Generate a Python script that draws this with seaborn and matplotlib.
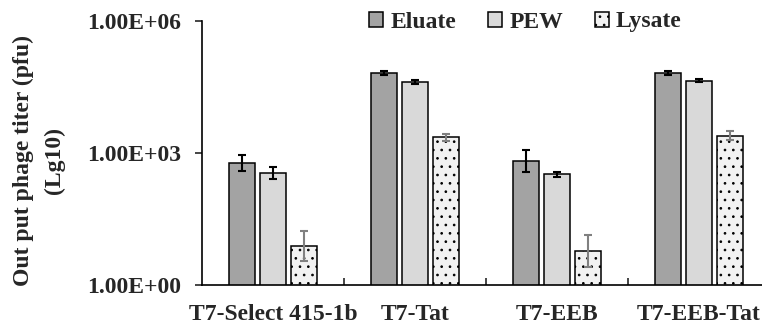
import numpy as np
import pandas as pd
import matplotlib
matplotlib.use("Agg")
import matplotlib.pyplot as plt
import seaborn as sns

# DATA (log10 axis)
phages = ["T7-Select 415-1b", "T7-Tat", "T7-EEB", "T7-EEB-Tat"]
samples = ["Eluate", "PEW", "Lysate"]

eluate = [590, 66000, 660, 66000]
pew = [350, 41000, 330, 44000]
lysate = [7.7, 2300, 5.9, 2450]

# error bar half-widths in decades (bars are symmetric on the log axis)
eluate_err = [0.19, 0.05, 0.24, 0.05]
pew_err = [0.13, 0.05, 0.06, 0.04]
lysate_err = [0.33, 0.08, 0.37, 0.10]

values = {"Eluate": eluate, "PEW": pew, "Lysate": lysate}
errors = {"Eluate": eluate_err, "PEW": pew_err, "Lysate": lysate_err}

df = pd.DataFrame({
    "Phage": np.repeat(phages, len(samples)),
    "Sample": samples * len(phages),
})
df["Titer"] = [values[s][phages.index(p)] for p, s in zip(df["Phage"], df["Sample"])]

# STYLE
sns.set_style("white")
plt.rcParams["font.family"] = ["Liberation Serif", "DejaVu Serif"]
plt.rcParams["font.weight"] = "bold"
plt.rcParams["hatch.linewidth"] = 0.7
plt.rcParams["hatch.color"] = "#666666"

FS = 17
colors = {"Eluate": "#a3a3a3", "PEW": "#d9d9d9", "Lysate": "#f2f2f2"}
err_colors = {"Eluate": "black", "PEW": "black", "Lysate": "#808080"}

fig = plt.figure(figsize=(7.62, 3.25), dpi=100)
ax = fig.add_axes([202 / 762, 1 - 285 / 325, 568 / 762, 264 / 325])
ax.set_yscale("log")

sns.barplot(data=df, x="Phage", y="Titer", hue="Sample", order=phages,
            hue_order=samples, palette=colors, edgecolor="black", linewidth=1.1,
            width=0.655, gap=0.19, errorbar=None, legend=False, ax=ax)

bars = list(ax.containers)
for cont, s in zip(bars, samples):
    xs, ys = [], []
    for patch, p in zip(cont.patches, phages):
        xs.append(patch.get_x() + patch.get_width() / 2)
        ys.append(values[s][phages.index(p)])
        if s == "Lysate":
            patch.set_hatch("..")
    ys = np.array(ys)
    e = np.array(errors[s])
    ax.errorbar(xs, ys, yerr=[ys - ys / 10 ** e, ys * 10 ** e - ys], fmt="none",
                ecolor=err_colors[s], elinewidth=1.5, capsize=3, capthick=1.5)

ax.set_ylim(1, 1e6)
ax.set_xlim(-0.5, 3.5)
ax.set_yticks([1, 1e3, 1e6])
ax.set_yticklabels(["1.00E+00", "1.00E+03", "1.00E+06"])
ax.minorticks_off()
ax.set_xticks(range(len(phages)))
ax.set_xticklabels(phages)
ax.set_xticks([0.5, 1.5, 2.5], minor=True)
ax.tick_params(axis="x", which="major", length=0, pad=14, labelsize=FS)
ax.tick_params(axis="x", which="minor", direction="in", length=5, width=1.2, bottom=True)
ax.tick_params(axis="y", which="major", direction="out", length=5, width=1.2, left=True,
               pad=10, labelsize=FS)
for lab in ax.get_xticklabels() + ax.get_yticklabels():
    lab.set_fontweight("bold")

sns.despine(ax=ax)
for side in ["left", "bottom"]:
    ax.spines[side].set_linewidth(1.2)
    ax.spines[side].set_color("black")

ax.set_xlabel("")
ax.set_ylabel("Out put phage titer (pfu)\n(Lg10)", fontsize=FS, fontweight="bold",
              linespacing=1.6)
ax.yaxis.set_label_coords(-0.287, 0.47)
ax.yaxis.label.set_va("center")

fig.legend(handles=bars, labels=samples, loc="center left",
           bbox_to_anchor=(369 / 762, 1 - 22 / 325), ncol=3, frameon=False,
           handlelength=0.6, handleheight=0.6, handletextpad=0.3, columnspacing=1.35,
           prop={"size": FS, "weight": "bold"}, borderaxespad=0, borderpad=0)

fig.savefig("out.png", dpi=100)
